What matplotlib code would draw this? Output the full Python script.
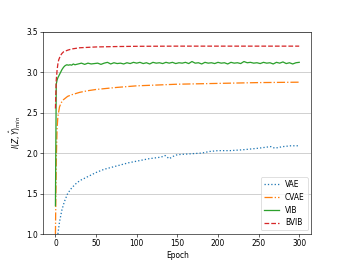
import numpy as np
import matplotlib
matplotlib.use("Agg")
import matplotlib.pyplot as plt

# values
vae_epoch = [3, 5, 8, 11, 15, 20, 25, 30, 40, 50, 60, 75, 90, 100, 115, 130, 135, 140, 145,
             150, 165, 180, 190, 200, 215, 230, 250, 265, 270, 280, 290, 300]
vae_val = [1.0, 1.15, 1.3, 1.4, 1.5, 1.57, 1.62, 1.66, 1.71, 1.76, 1.8, 1.84, 1.88, 1.9, 1.93,
           1.95, 1.97, 1.93, 1.96, 1.98, 1.99, 2.0, 2.02, 2.03, 2.03, 2.04, 2.06, 2.08, 2.06, 2.08,
           2.09, 2.09]

cvae_epoch = [0, 1, 2, 3, 5, 7, 10, 15, 20, 30, 40, 50, 75, 100, 125, 150, 175, 200, 250, 300]
cvae_val = [1.0, 1.9, 2.3, 2.45, 2.57, 2.62, 2.66, 2.7, 2.72, 2.75, 2.77, 2.785, 2.81, 2.83,
            2.84, 2.85, 2.855, 2.86, 2.87, 2.875]

vib_epoch = [0, 1, 2, 3, 4, 6, 8, 10, 12, 14, 16, 18, 20, 22] + list(range(24, 301, 4))
vib_val = [1.35, 2.85, 2.9, 2.93, 2.95, 2.99, 3.03, 3.06, 3.08, 3.09, 3.085, 3.09, 3.085, 3.1,
           3.09, 3.1, 3.11, 3.095, 3.11, 3.1, 3.105, 3.11, 3.095, 3.11, 3.12, 3.1, 3.115, 3.105,
           3.11, 3.1, 3.115, 3.105, 3.12, 3.11, 3.12, 3.105, 3.115, 3.1, 3.12, 3.11, 3.115, 3.105,
           3.12, 3.11, 3.12, 3.105, 3.115, 3.11, 3.12, 3.105, 3.13, 3.11, 3.115, 3.1, 3.12, 3.11,
           3.115, 3.105, 3.12, 3.11, 3.115, 3.1, 3.12, 3.11, 3.115, 3.105, 3.13, 3.115, 3.12, 3.11,
           3.115, 3.105, 3.12, 3.11, 3.115, 3.1, 3.12, 3.11, 3.125, 3.105, 3.115, 3.1, 3.115, 3.12]

bvib_epoch = [0, 1, 2, 3, 4, 6, 8, 10, 15, 20, 30, 40, 50, 75, 100, 150, 200, 250, 300]
bvib_val = [2.55, 2.9, 3.02, 3.1, 3.15, 3.2, 3.23, 3.25, 3.27, 3.285, 3.3, 3.305, 3.31, 3.315,
            3.318, 3.32, 3.32, 3.32, 3.32]

dpi = 54
fig = plt.figure(figsize=(346 / dpi, 263 / dpi), dpi=dpi)
ax = fig.add_subplot(111)

lw = 1.7
ax.plot(vae_epoch, vae_val, linestyle=":", color="tab:blue", lw=lw, label="VAE")
ax.plot(cvae_epoch, cvae_val, linestyle="-.", color="tab:orange", lw=lw, label="CVAE")
ax.plot(vib_epoch, vib_val, linestyle="-", color="tab:green", lw=lw, label="VIB")
ax.plot(bvib_epoch, bvib_val, linestyle="--", color="tab:red", lw=lw, label="BVIB")

ax.set_ylim(1.0, 3.5)
ax.set_xlim(-15, 315)
ax.set_xticks(np.arange(0, 301, 50))
ax.yaxis.grid(True, color="#cccccc", linewidth=1.2)
ax.set_axisbelow(True)
ax.set_xlabel("Epoch")
ax.set_ylabel(r"$I(Z, \hat{Y})_{min}$")
ax.legend(loc="lower right")

fig.savefig("out.png", dpi=dpi)
